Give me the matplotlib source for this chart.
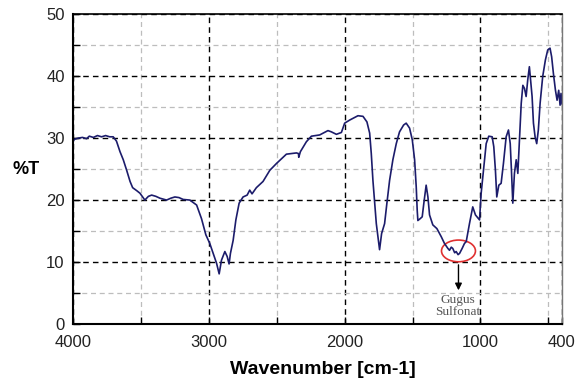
import matplotlib
matplotlib.use("Agg")
import matplotlib.pyplot as plt
from matplotlib.patches import Ellipse

# FTIR spectrum
wavenumber = [
    4000, 3990, 3960, 3930, 3900, 3880, 3850, 3820, 3790, 3760, 3730, 3704,
    3680, 3654, 3630, 3605, 3580, 3561, 3530, 3507, 3471, 3445, 3421, 3390,
    3360, 3311, 3280, 3250, 3220, 3189, 3140, 3090, 3054, 3022, 2993, 2968,
    2943, 2924, 2907, 2882, 2865, 2851, 2841, 2821, 2801, 2777, 2748, 2718,
    2699, 2682, 2650, 2601, 2551, 2502, 2429, 2355, 2340, 2338, 2326, 2282,
    2245, 2184, 2123, 2098, 2061, 2024, 2000, 1963, 1902, 1865, 1836, 1816,
    1804, 1792, 1779, 1767, 1755, 1743, 1728, 1706, 1689, 1669, 1645, 1620,
    1596, 1566, 1547, 1522, 1502, 1485, 1473, 1466, 1461, 1444, 1429, 1417,
    1400, 1387, 1375, 1351, 1321, 1289, 1265, 1240, 1228, 1215, 1204, 1190,
    1179, 1165, 1154, 1135, 1118, 1105, 1081, 1057, 1037, 1007, 995, 978,
    958, 939, 914, 902, 890, 880, 865, 848, 831, 811, 794, 781,
    772, 762, 750, 737, 725, 713, 700, 688, 676, 664, 652, 640,
    632, 620, 610, 598, 586, 574, 561, 542, 522, 505, 488, 476,
    463, 448, 436, 424, 414, 407, 400,
]
transmittance = [
    29.4, 29.8, 30.0, 30.1, 29.9, 30.3, 30.1, 30.4, 30.2, 30.4, 30.2, 30.2,
    29.5, 27.8, 26.5, 24.8, 23.0, 22.0, 21.5, 21.1, 20.0, 20.6, 20.8, 20.6,
    20.3, 20.0, 20.3, 20.5, 20.4, 20.1, 20.0, 19.2, 17.0, 14.4, 13.0, 11.4,
    9.8, 8.1, 10.3, 11.7, 10.9, 9.7, 11.4, 13.5, 16.8, 19.5, 20.5, 20.8,
    21.6, 21.0, 22.0, 23.0, 24.8, 25.9, 27.4, 27.6, 27.5, 26.9, 27.8, 29.4,
    30.3, 30.5, 31.2, 31.0, 30.6, 30.9, 32.4, 32.9, 33.6, 33.5, 32.6, 30.8,
    27.5, 23.2, 19.5, 16.2, 14.1, 12.0, 14.6, 16.2, 19.5, 23.2, 26.5, 29.1,
    31.0, 32.1, 32.4, 31.6, 29.7, 26.5, 22.1, 18.4, 16.7, 17.0, 17.3, 19.5,
    22.4, 20.5, 17.6, 16.0, 15.4, 14.1, 13.0, 12.2, 11.9, 12.4, 12.2, 11.5,
    11.7, 11.2, 11.4, 12.2, 13.0, 13.3, 16.2, 18.9, 17.6, 16.8, 21.1, 24.8,
    29.1, 30.3, 30.2, 28.6, 24.8, 20.5, 22.4, 22.7, 25.9, 30.2, 31.3, 29.1,
    24.8, 19.5, 24.3, 26.5, 24.3, 29.7, 35.6, 38.5, 38.0, 36.7, 39.4, 41.5,
    39.6, 36.7, 32.4, 30.2, 29.1, 31.3, 35.6, 39.9, 42.6, 44.2, 44.5, 43.1,
    40.4, 37.7, 36.1, 37.7, 35.3, 37.2, 35.5,
]

x_major = [4000, 3000, 2000, 1000, 400]
x_minor = [3500, 2500, 1500, 500]
y_major = [0, 10, 20, 30, 40, 50]
y_minor = [5, 15, 25, 35, 45]

# marked band
band_center = (1162, 11.8)
band_label = "Gugus\nSulfonat"

plt.rcParams['font.family'] = ['Liberation Sans', 'DejaVu Sans']

fig = plt.figure(figsize=(5.86, 3.84), dpi=100)
ax = fig.add_axes([0.1246, 0.156, 0.8344, 0.8075])

ax.plot(wavenumber, transmittance, color='#1c1c6b', linewidth=1.2)

ax.set_xlim(4000, 400)
ax.set_ylim(0, 50)
ax.set_xticks(x_major)
ax.set_xticks(x_minor, minor=True)
ax.set_yticks(y_major)
ax.set_yticks(y_minor, minor=True)

ax.set_axisbelow(True)
ax.grid(which='major', color='black', linestyle=(0, (4, 3)), linewidth=1.0)
ax.grid(which='minor', color='#bdbdbd', linestyle=(0, (4, 3)), linewidth=0.9)

ax.tick_params(which='both', direction='in', length=5, width=1, top=False, right=False)
ax.tick_params(axis='x', which='major', labelsize=12, pad=8)
ax.tick_params(axis='y', which='major', labelsize=12, pad=6)
for lab in ax.get_xticklabels() + ax.get_yticklabels():
    lab.set_color('#222222')

for side in ['left', 'bottom']:
    ax.spines[side].set_linewidth(1.5)
ax.spines['top'].set_linewidth(1.2)
ax.spines['right'].set_color('#777777')
ax.spines['right'].set_linewidth(1.0)

ax.set_xlabel('Wavenumber [cm-1]', fontsize=14, fontweight='bold')
ax.xaxis.set_label_coords(0.51, -0.12)
ax.set_ylabel('%T', fontsize=13, fontweight='bold', rotation=0)
ax.yaxis.set_label_coords(-0.095, 0.47)

# circle round the sulfonate band + arrow + note
ax.add_patch(Ellipse(band_center, width=250, height=3.5, fill=False,
                     edgecolor='#e03030', linewidth=1.2))
ax.annotate('', xy=(band_center[0], 5.0), xytext=(band_center[0], 10.0),
            arrowprops=dict(arrowstyle='-|>', color='black', lw=1.0,
                            mutation_scale=10))
ax.text(band_center[0] + 5, 4.9, band_label, ha='center', va='top',
        fontsize=9.5, family=['Liberation Serif', 'DejaVu Serif'],
        color='#555555', linespacing=1.05)

fig.savefig('out.png', dpi=100)
